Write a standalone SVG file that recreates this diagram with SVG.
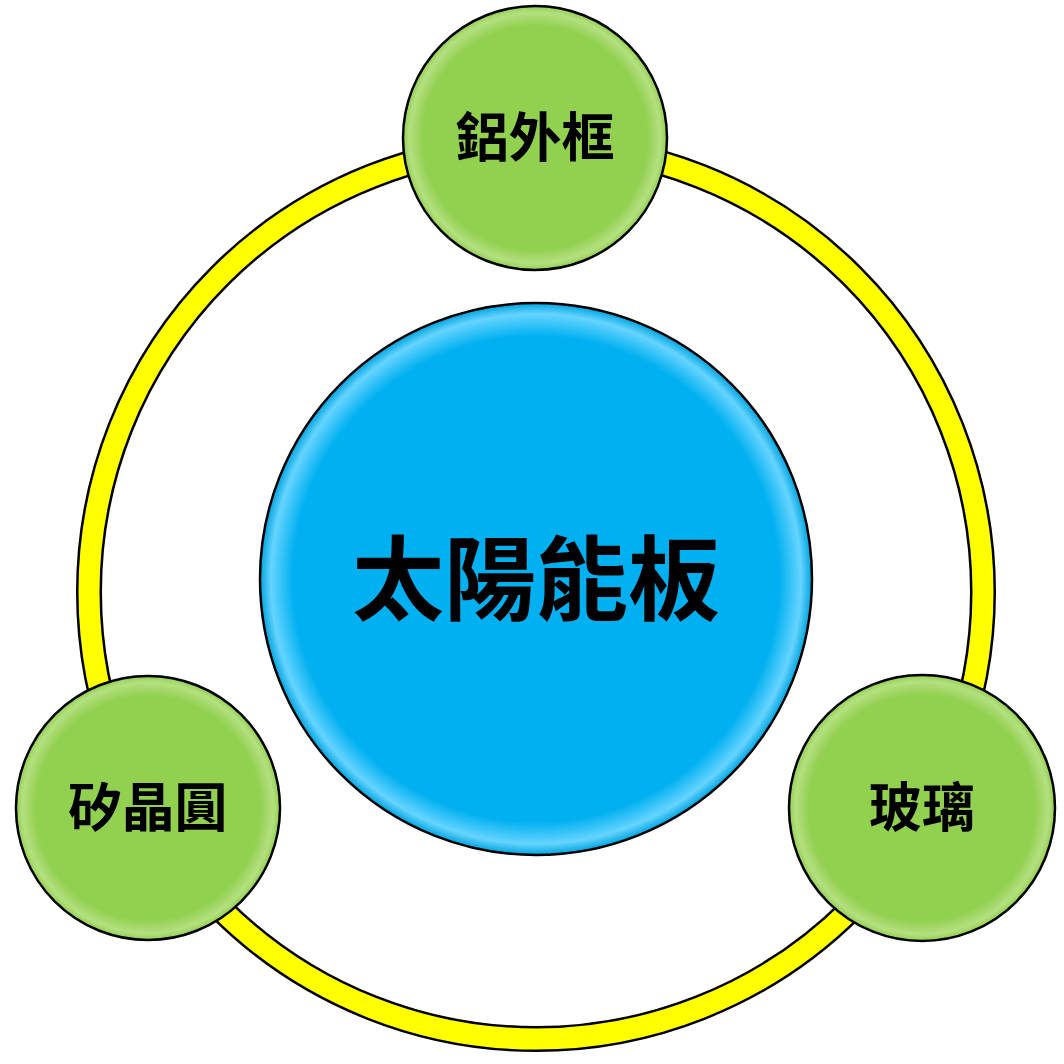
<svg xmlns="http://www.w3.org/2000/svg" width="1064" height="1064" viewBox="0 0 1064 1064">
<defs>
<radialGradient id="g" cx="50%" cy="50%" r="50%"><stop offset="0.85" stop-color="#92d050"/><stop offset="0.95" stop-color="#b4e080"/><stop offset="1" stop-color="#92d050"/></radialGradient>
<radialGradient id="b" cx="50%" cy="50%" r="50%"><stop offset="0.88" stop-color="#00b0f0"/><stop offset="0.96" stop-color="#66d4ff"/><stop offset="1" stop-color="#00a4e0"/></radialGradient>
<style>
.n{stroke:#000;stroke-width:2.5}
.t{font-family:"Noto Sans CJK TC","Noto Sans CJK SC",sans-serif;font-weight:bold;text-anchor:middle;fill:#000}
</style>
</defs>
<g id="ring">
<circle cx="536" cy="592" r="447" fill="none" stroke="#000" stroke-width="26"/>
<circle cx="536" cy="592" r="447" fill="none" stroke="#ffff00" stroke-width="21"/>
</g>
<g id="center"><circle class="n" cx="536" cy="579" r="276" fill="url(#b)"/><text class="t" x="536" y="613" font-size="92">太陽能板</text></g>
<g id="top"><circle class="n" cx="535" cy="138" r="132" fill="url(#g)"/><text class="t" x="535" y="157" font-size="53">鋁外框</text></g>
<g id="left"><circle class="n" cx="148" cy="808" r="132" fill="url(#g)"/><text class="t" x="148" y="827" font-size="53">矽晶圓</text></g>
<g id="right"><circle class="n" cx="922" cy="808" r="133" fill="url(#g)"/><text class="t" x="922" y="827" font-size="53">玻璃</text></g>
</svg>
